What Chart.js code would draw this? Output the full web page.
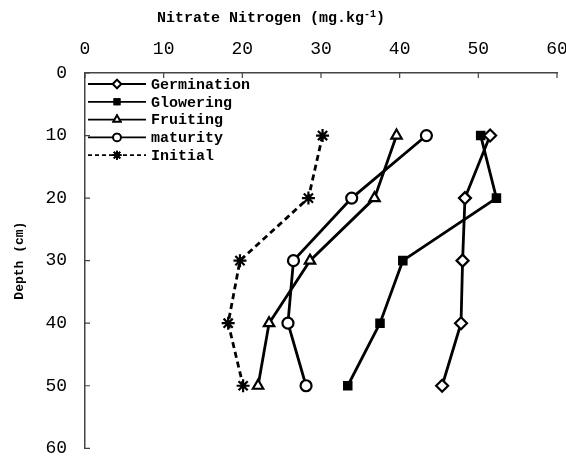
<!DOCTYPE html>
<html>
<head>
<meta charset="utf-8">
<script src="https://cdn.jsdelivr.net/npm/chart.js@4/dist/chart.umd.min.js"></script>
<style>
    html, body { margin: 0; padding: 0; background: #fff; }
    #wrap { width: 566px; height: 457px; }
</style>
</head>
<body>
<div id="wrap"><canvas id="nitrate-chart"></canvas></div>
<script>

// depth (cm) on the y axis, nitrate nitrogen on the x axis
var depths = [10, 20, 30, 40, 50];
var germination = [51.5, 48.3, 48.0, 47.8, 45.4];
var glowering = [50.3, 52.3, 40.4, 37.5, 33.4];
var fruiting = [39.6, 36.8, 28.6, 23.4, 22.0];
var maturity = [43.4, 33.9, 26.5, 25.8, 28.1];
var initial = [30.2, 28.4, 19.7, 18.2, 20.1];
var seriesNames = ['Germination', 'Glowering', 'Fruiting', 'maturity', 'Initial'];
var xTicks = [0, 10, 20, 30, 40, 50, 60];
var yTicks = [0, 10, 20, 30, 40, 50, 60];

function toPoints(values) {
    return values.map(function(v, i) { return {x: v, y: depths[i]}; });
}

var styles = [
    {pointStyle: 'rectRot', radius: 6, fill: '#fff', dash: []},
    {pointStyle: 'rect', radius: 5.2, fill: '#000', dash: []},
    {pointStyle: 'triangle', radius: 6, fill: '#fff', dash: []},
    {pointStyle: 'circle', radius: 5.5, fill: '#fff', dash: []},
    {pointStyle: 'star', radius: 6.5, fill: '#000', dash: [6, 4]}
];

var seriesValues = [germination, glowering, fruiting, maturity, initial];

var datasets = seriesValues.map(function(values, i) {
    var s = styles[i];
    return {
        label: seriesNames[i],
        data: toPoints(values),
        borderColor: '#000',
        borderWidth: 2.8,
        borderDash: s.dash,
        pointStyle: s.pointStyle,
        pointRadius: s.radius,
        pointBackgroundColor: s.fill,
        pointBorderColor: '#000',
        pointBorderWidth: 2.2,
        tension: 0,
        fill: false
    };
});

var extras = {
    id: 'extras',
    afterDraw: function(chart) {
        var ctx = chart.ctx;
        var area = chart.chartArea;
        var xs = chart.scales.x;
        var ys = chart.scales.y;
        ctx.save();
        // inward tick marks
        ctx.strokeStyle = '#444';
        ctx.lineWidth = 1.2;
        ctx.beginPath();
        xTicks.forEach(function(t) {
            var px = xs.getPixelForValue(t);
            ctx.moveTo(px, area.top);
            ctx.lineTo(px, area.top + 5);
        });
        yTicks.forEach(function(t) {
            var py = ys.getPixelForValue(t);
            ctx.moveTo(area.left, py);
            ctx.lineTo(area.left + 5, py);
        });
        ctx.stroke();

        // legend inside the plot, line + marker then name
        ctx.textBaseline = 'middle';
        ctx.textAlign = 'left';
        seriesNames.forEach(function(name, i) {
            var s = styles[i];
            var y = area.top + 11 + i * 17.8;
            var x0 = area.left + 3;
            ctx.strokeStyle = '#000';
            ctx.lineWidth = 1.8;
            ctx.setLineDash(i === 4 ? [4, 3] : []);
            ctx.beginPath();
            ctx.moveTo(x0, y);
            ctx.lineTo(x0 + 58, y);
            ctx.stroke();
            ctx.setLineDash([]);
            ctx.fillStyle = s.fill;
            Chart.helpers.drawPoint(ctx, {pointStyle: s.pointStyle, radius: s.radius * 0.7, borderWidth: 1.8}, x0 + 29, y);
            ctx.fill();
            ctx.stroke();
            ctx.fillStyle = '#000';
            ctx.font = 'bold 15px "Liberation Mono"';
            ctx.fillText(name, x0 + 63, y + 1);
        });

        // title with superscript
        var main = 'Nitrate Nitrogen (mg.kg';
        var sup = '-1';
        var tail = ')';
        ctx.fillStyle = '#000';
        ctx.font = 'bold 15px "Liberation Mono"';
        var w1 = ctx.measureText(main).width;
        var w3 = ctx.measureText(tail).width;
        ctx.font = 'bold 10px "Liberation Mono"';
        var w2 = ctx.measureText(sup).width;
        var cx = area.left + 0.394 * (area.right - area.left);
        var tx = cx - (w1 + w2 + w3) / 2;
        var ty = 18;
        ctx.font = 'bold 15px "Liberation Mono"';
        ctx.fillText(main, tx, ty);
        ctx.font = 'bold 10px "Liberation Mono"';
        ctx.fillText(sup, tx + w1, ty - 4);
        ctx.font = 'bold 15px "Liberation Mono"';
        ctx.fillText(tail, tx + w1 + w2, ty);
        ctx.restore();
    }
};

var ctx = document.getElementById('nitrate-chart');

var options = {
    responsive: true,
    maintainAspectRatio: false,
    animation: false,
    layout: {
        padding: 0
    },
    scales: {
        x: {
            type: 'linear',
            position: 'top',
            min: 0,
            max: 60,
            afterFit: function(scale) {
                scale.height = 73;
                scale.paddingLeft = 0;
                scale.paddingRight = 9;
            },
            afterBuildTicks: function(scale) {
                scale.ticks = xTicks.map(function(v) { return {value: v}; });
            },
            ticks: {
                color: '#000',
                padding: 15,
                maxRotation: 0,
                font: {family: 'Liberation Mono', size: 18, lineHeight: 1}
            },
            grid: {display: true, drawOnChartArea: false, drawTicks: false},
            border: {display: true, color: '#444', width: 1.5}
        },
        y: {
            type: 'linear',
            reverse: true,
            min: 0,
            max: 60,
            afterFit: function(scale) {
                scale.width = 85;
                scale.paddingTop = 0;
                scale.paddingBottom = 6;
            },
            afterBuildTicks: function(scale) {
                scale.ticks = yTicks.map(function(v) { return {value: v}; });
            },
            ticks: {
                color: '#000',
                padding: 18,
                font: {family: 'Liberation Mono', size: 18, lineHeight: 1}
            },
            grid: {display: true, drawOnChartArea: false, drawTicks: false},
            border: {display: true, color: '#444', width: 1.5},
            title: {
                display: true,
                text: 'Depth (cm)',
                color: '#000',
                padding: {top: 12, bottom: 0},
                font: {family: 'Liberation Mono', size: 13, weight: 'bold'}
            }
        }
    },
    plugins: {
        legend: {display: false},
        tooltip: {enabled: false}
    }
};

var nitrateChart = new Chart(ctx, {
    type: 'line',
    data: {datasets: datasets},
    options: options,
    plugins: [extras]
});

</script>
</body>
</html>
